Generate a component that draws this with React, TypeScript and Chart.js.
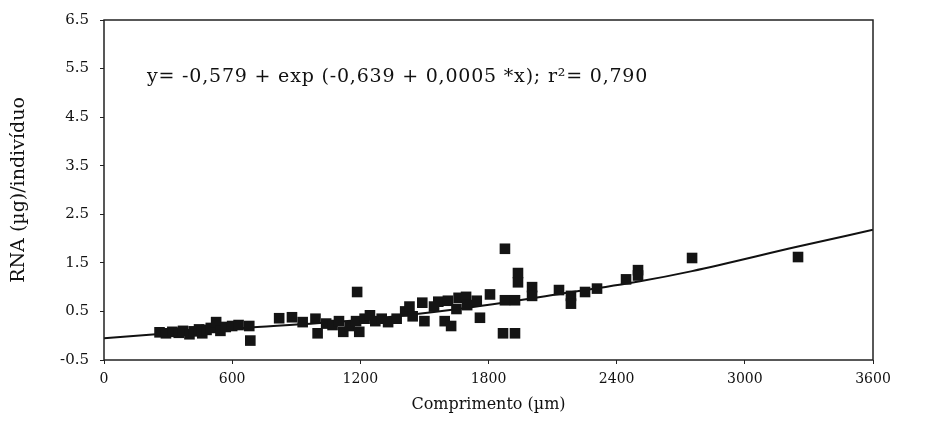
import React, { useEffect, useRef } from "react";
import { Chart, registerables } from "chart.js";
Chart.register(...registerables);

// Observed points: length (µm) and RNA (µg) per individual
const lengthUm = [260, 290, 320, 350, 370, 400, 420, 445, 460, 480, 500, 525, 545, 570, 600, 630, 680, 685, 820, 880, 930, 990, 1000, 1040, 1070, 1100, 1120, 1150, 1180, 1185, 1195, 1220, 1245, 1270, 1300, 1330, 1370, 1410, 1430, 1445, 1490, 1500, 1545, 1565, 1595, 1610, 1625, 1650, 1660, 1695, 1700, 1745, 1760, 1807, 1868, 1877, 1877, 1924, 1924, 1938, 1938, 2004, 2004, 2130, 2186, 2186, 2252, 2308, 2444, 2500, 2500, 2753, 3249];
const rnaUg = [0.07, 0.05, 0.08, 0.06, 0.1, 0.03, 0.09, 0.13, 0.05, 0.12, 0.16, 0.28, 0.1, 0.18, 0.2, 0.22, 0.2, -0.1, 0.36, 0.38, 0.28, 0.35, 0.05, 0.25, 0.22, 0.3, 0.08, 0.2, 0.3, 0.9, 0.08, 0.35, 0.42, 0.3, 0.35, 0.28, 0.35, 0.5, 0.6, 0.4, 0.68, 0.3, 0.6, 0.7, 0.3, 0.72, 0.2, 0.55, 0.78, 0.8, 0.63, 0.72, 0.37, 0.85, 0.05, 1.79, 0.73, 0.05, 0.73, 1.29, 1.1, 1.0, 0.82, 0.94, 0.82, 0.66, 0.9, 0.97, 1.16, 1.35, 1.24, 1.6, 1.62];

// Fitted curve as drawn in the figure
const fitLength = [0, 683, 1184, 1667, 2135, 2509, 2753, 3244, 3600];
const fitRna = [-0.05, 0.17, 0.32, 0.555, 0.86, 1.12, 1.33, 1.83, 2.18];

const xTickValues = [0, 600, 1200, 1800, 2400, 3000, 3600];
const yTickValues = [-0.5, 0.5, 1.5, 2.5, 3.5, 4.5, 5.5, 6.5];

const equationText = "y= -0,579 + exp (-0,639 + 0,0005 *x); r²= 0,790";
const xTitle = "Comprimento (µm)";
const yTitle = "RNA (µg)/indivíduo";

const SERIF = '"DejaVu Serif", "Liberation Serif", serif';

export default function App() {
  const ref = useRef<HTMLCanvasElement | null>(null);
  useEffect(() => {
    if (!ref.current) return;
    const framePlugin = {
      id: "frame",
      afterDatasetsDraw(chart: any) {
        const { ctx, chartArea: a } = chart;
        ctx.save();
        ctx.strokeStyle = "#222";
        ctx.lineWidth = 1.5;
        ctx.strokeRect(a.left, a.top, a.right - a.left, a.bottom - a.top);
        ctx.fillStyle = "#111";
        ctx.font = "19px " + SERIF;
        (ctx as any).letterSpacing = "0.8px";
        ctx.textBaseline = "middle";
        ctx.textAlign = "left";
        ctx.fillText(equationText, a.left + 43, a.top + 57);
        ctx.restore();
      },
    };
    const chart = new Chart(ref.current, {
      type: "scatter",
      data: {
        datasets: [
          {
            type: "scatter",
            data: lengthUm.map((x, i) => ({ x, y: rnaUg[i] })),
            pointStyle: "rect",
            pointRadius: 7.5,
            backgroundColor: "#141414",
            borderColor: "#141414",
            borderWidth: 0,
          },
          {
            type: "line",
            data: fitLength.map((x, i) => ({ x, y: fitRna[i] })),
            borderColor: "#111",
            borderWidth: 2,
            pointRadius: 0,
            showLine: true,
            fill: false,
            cubicInterpolationMode: "monotone",
          } as any,
        ],
      },
      options: {
        responsive: false,
        animation: false,
        layout: { padding: { left: 4, top: 15, right: 55, bottom: 11 } },
        plugins: { legend: { display: false }, tooltip: { enabled: false } },
        scales: {
          x: {
            type: "linear",
            min: 0,
            max: 3600,
            afterBuildTicks: (s: any) => {
              s.ticks = xTickValues.map((v) => ({ value: v }));
            },
            afterFit: (s: any) => {
              s.height = 58;
            },
            grid: { drawOnChartArea: false, tickLength: 4, color: "#222" },
            border: { display: false },
            ticks: {
              color: "#111",
              font: { family: SERIF, size: 14 },
              padding: 7,
              maxRotation: 0,
              callback: (v: any) => String(v),
            },
            title: {
              display: true,
              text: xTitle,
              color: "#111",
              font: { family: SERIF, size: 16 },
              padding: 4,
            },
          },
          y: {
            type: "linear",
            min: -0.5,
            max: 6.5,
            afterBuildTicks: (s: any) => {
              s.ticks = yTickValues.map((v) => ({ value: v }));
            },
            afterFit: (s: any) => {
              s.width = 100;
            },
            grid: { drawOnChartArea: false, tickLength: 4, color: "#222" },
            border: { display: false },
            ticks: {
              color: "#111",
              font: { family: SERIF, size: 15 },
              padding: 11,
              callback: (v: any) => Number(v).toFixed(1),
            },
            title: {
              display: true,
              text: yTitle,
              color: "#111",
              font: { family: SERIF, size: 19 },
              padding: 4,
            },
          },
        },
      },
      plugins: [framePlugin],
    } as any);
    return () => chart.destroy();
  }, []);
  return (
    <div style={{ position: "fixed", left: 0, top: 0, width: 928, height: 429, background: "#fff" }}>
      <canvas ref={ref} width={928} height={429} style={{ display: "block" }} />
    </div>
  );
}
